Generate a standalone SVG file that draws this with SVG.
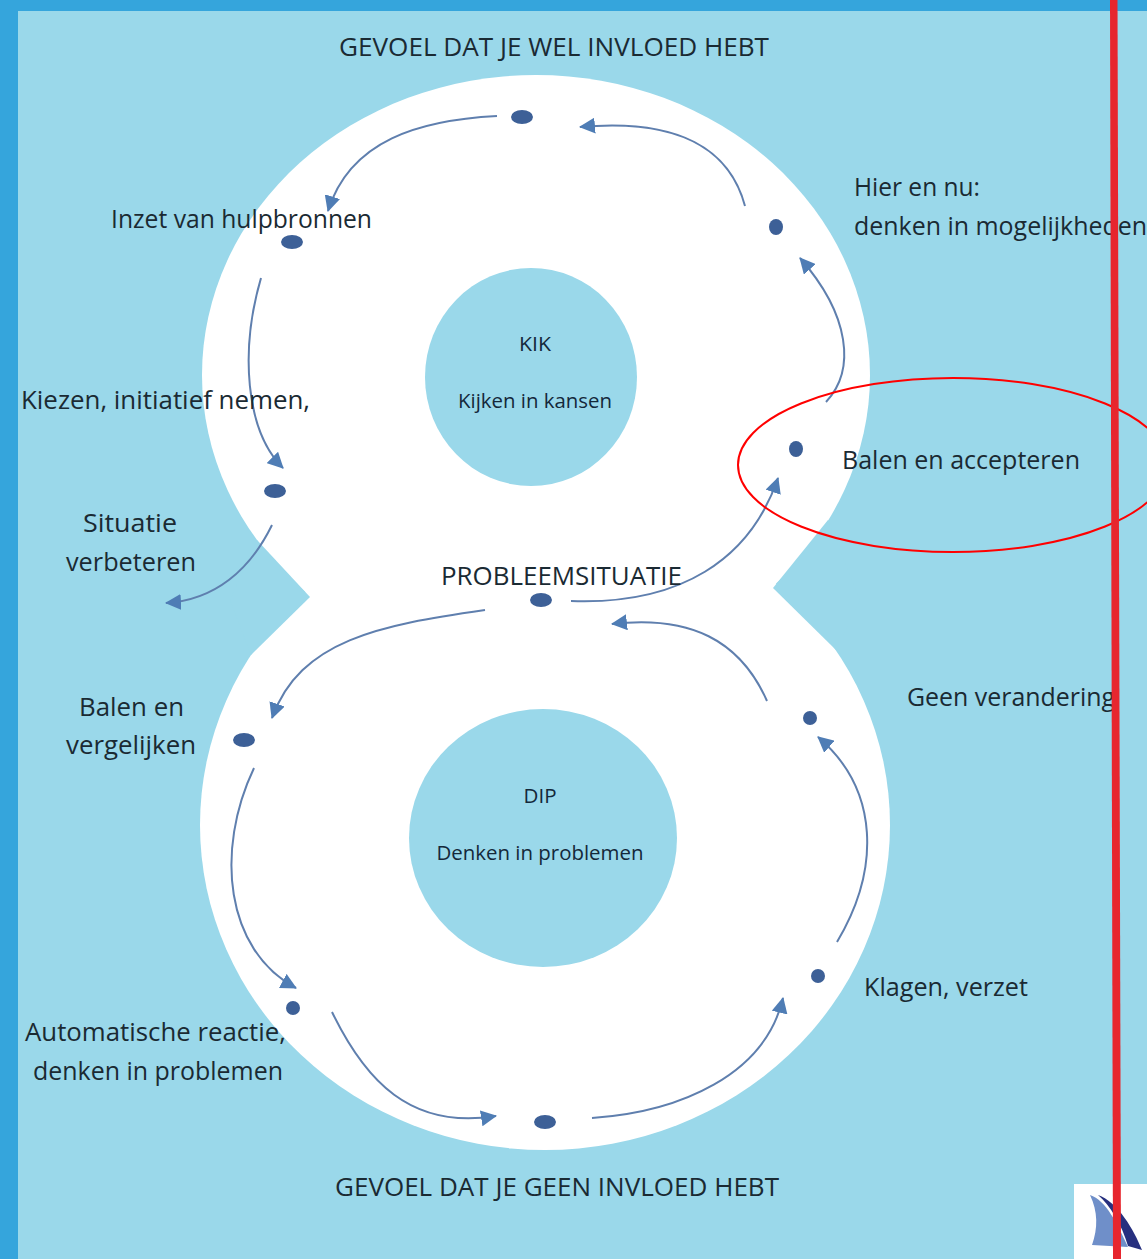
<svg xmlns="http://www.w3.org/2000/svg" width="1147" height="1259" viewBox="0 0 1147 1259">
<defs>
<marker id="ah" markerUnits="userSpaceOnUse" markerWidth="18" markerHeight="16" refX="15" refY="8" orient="auto"><path d="M0 0L16 8L0 16Z" fill="#4f7db5"/></marker>
</defs>
<style>
.t{font-family:"Open Sans","Noto Sans",sans-serif;font-size:25px;fill:#1a2a33}
.s{font-family:"Open Sans","Noto Sans",sans-serif;font-size:20px;fill:#14283a}
.c{fill:none;stroke:#5f7fae;stroke-width:2;marker-end:url(#ah)}
.d{fill:#3d6097}
.h{fill:#9ad8ea}
</style>
<rect width="1147" height="1259" fill="#35a5dc"/>
<rect x="18" y="11" width="1129" height="1248" class="h"/>
<g id="eight">
<ellipse cx="536" cy="375" rx="334" ry="300" fill="#fff"/>
<ellipse cx="545" cy="825" rx="345" ry="325" fill="#fff"/>
<rect x="400" y="520" width="280" height="160" fill="#fff"/>
<path class="h" d="M257 540L310 597L251 655L230 600Z"/>
<path class="h" d="M828 520L773 588L836 650L860 600Z"/>
</g>
<g id="kik">
<ellipse cx="531" cy="377" rx="106" ry="109" class="h"/>
<text class="s" x="535" y="351" text-anchor="middle" textLength="32" lengthAdjust="spacingAndGlyphs">KIK</text>
<text class="s" x="535" y="408" text-anchor="middle" textLength="154" lengthAdjust="spacingAndGlyphs">Kijken in kansen</text>
</g>
<g id="dip">
<ellipse cx="543" cy="838" rx="134" ry="129" class="h"/>
<text class="s" x="540" y="803" text-anchor="middle" textLength="33" lengthAdjust="spacingAndGlyphs">DIP</text>
<text class="s" x="540" y="860" text-anchor="middle" textLength="207" lengthAdjust="spacingAndGlyphs">Denken in problemen</text>
</g>
<g id="connectors">
<path class="c" d="M497 116C420 120 350 140 328 211"/>
<path class="c" d="M745 206C730 150 680 118 580 127"/>
<path class="c" d="M826 402C856 370 850 315 800 258"/>
<path class="c" d="M571 601C680 605 750 560 778 478"/>
<path class="c" d="M261 278C240 350 245 430 283 468"/>
<path class="c" d="M272 525C250 570 215 600 166 603"/>
<path class="c" d="M485 610C380 625 300 640 272 718"/>
<path class="c" d="M767 701C740 640 690 615 612 624"/>
<path class="c" d="M837 942C880 870 880 790 818 737"/>
<path class="c" d="M254 768C215 850 225 950 296 988"/>
<path class="c" d="M332 1012C365 1080 410 1130 496 1116"/>
<path class="c" d="M592 1118C680 1112 765 1075 783 998"/>
</g>
<g id="dots">
<ellipse class="d" cx="522" cy="117" rx="11" ry="7"/>
<ellipse class="d" cx="776" cy="227" rx="7" ry="8"/>
<ellipse class="d" cx="292" cy="242" rx="11" ry="7"/>
<ellipse class="d" cx="796" cy="449" rx="7" ry="8"/>
<ellipse class="d" cx="275" cy="491" rx="11" ry="7"/>
<ellipse class="d" cx="541" cy="600" rx="11" ry="7"/>
<ellipse class="d" cx="810" cy="718" rx="7" ry="7"/>
<ellipse class="d" cx="244" cy="740" rx="11" ry="7"/>
<ellipse class="d" cx="818" cy="976" rx="7" ry="7"/>
<ellipse class="d" cx="293" cy="1008" rx="7" ry="7"/>
<ellipse class="d" cx="545" cy="1122" rx="11" ry="7"/>
</g>
<g id="labels">
<text class="t" x="339" y="56" textLength="430" lengthAdjust="spacingAndGlyphs">GEVOEL DAT JE WEL INVLOED HEBT</text>
<text class="t" x="854" y="196" textLength="126" lengthAdjust="spacingAndGlyphs">Hier en nu:</text>
<text class="t" x="854" y="235" textLength="293" lengthAdjust="spacingAndGlyphs">denken in mogelijkheden</text>
<text class="t" x="111" y="228" textLength="261" lengthAdjust="spacingAndGlyphs">Inzet van hulpbronnen</text>
<text class="t" x="21" y="409" textLength="289" lengthAdjust="spacingAndGlyphs">Kiezen, initiatief nemen,</text>
<text class="t" x="842" y="469" textLength="238" lengthAdjust="spacingAndGlyphs">Balen en accepteren</text>
<text class="t" x="83" y="532" textLength="94" lengthAdjust="spacingAndGlyphs">Situatie</text>
<text class="t" x="66" y="571" textLength="130" lengthAdjust="spacingAndGlyphs">verbeteren</text>
<text class="t" x="441" y="585" textLength="241" lengthAdjust="spacingAndGlyphs">PROBLEEMSITUATIE</text>
<text class="t" x="907" y="706" textLength="208" lengthAdjust="spacingAndGlyphs">Geen verandering</text>
<text class="t" x="79" y="716" textLength="105" lengthAdjust="spacingAndGlyphs">Balen en</text>
<text class="t" x="66" y="754" textLength="130" lengthAdjust="spacingAndGlyphs">vergelijken</text>
<text class="t" x="864" y="996" textLength="164" lengthAdjust="spacingAndGlyphs">Klagen, verzet</text>
<text class="t" x="25" y="1041" textLength="261" lengthAdjust="spacingAndGlyphs">Automatische reactie,</text>
<text class="t" x="33" y="1080" textLength="250" lengthAdjust="spacingAndGlyphs">denken in problemen</text>
<text class="t" x="335" y="1196" textLength="444" lengthAdjust="spacingAndGlyphs">GEVOEL DAT JE GEEN INVLOED HEBT</text>
</g>
<g id="logo">
<rect x="1074" y="1184" width="73" height="75" fill="#fff"/>
<path d="M1090 1195C1106 1200 1118 1225 1128 1247L1092 1245C1098 1228 1098 1212 1090 1195Z" fill="#6f8fc9"/>
<path d="M1098 1195C1118 1202 1134 1230 1142 1250L1128 1246C1122 1225 1110 1205 1098 1195Z" fill="#27307f"/>
</g>
<ellipse id="highlight" cx="953" cy="465" rx="215" ry="87" fill="none" stroke="#f00" stroke-width="2"/>
<path id="redbar" d="M1110 0H1117.5L1121 1259H1113Z" fill="#e7262e"/>
</svg>
